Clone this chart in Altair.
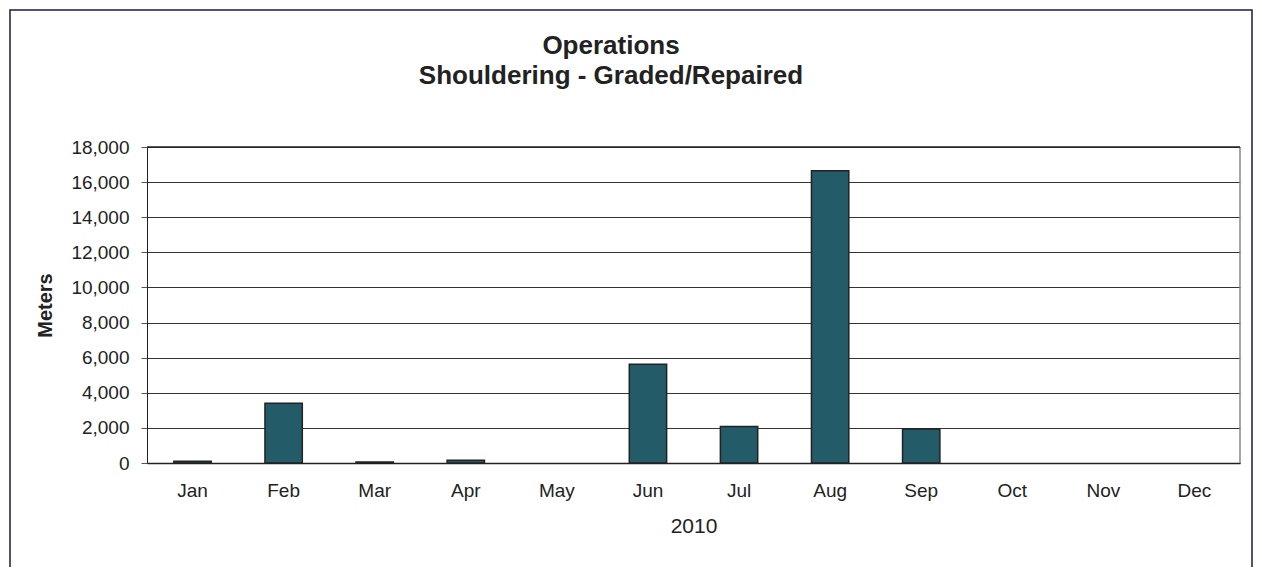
import altair as alt
import pandas as pd

months = ["Jan", "Feb", "Mar", "Apr", "May", "Jun", "Jul", "Aug", "Sep", "Oct", "Nov", "Dec"]
meters = [100, 3400, 50, 150, None, 5620, 2080, 16650, 1930, None, None, None]
y_ticks = [0, 2000, 4000, 6000, 8000, 10000, 12000, 14000, 16000, 18000]
title_lines = ["Operations", "Shouldering - Graded/Repaired"]

df = pd.DataFrame({"Month": months, "Meters": meters})
title_df = pd.DataFrame({"text": title_lines, "line": [0, 1]})

W, H = 1093, 316
FONT = "Liberation Sans"

bars = alt.Chart(df).mark_bar(
    color="#235B69", stroke="#222222", strokeWidth=1.5
).encode(
    x=alt.X("Month:N", sort=months,
            scale=alt.Scale(paddingInner=0.59, paddingOuter=0.295),
            axis=alt.Axis(title="2010", labelAngle=0, ticks=False, labelPadding=18,
                          titlePadding=15, domainColor="#222222", domainWidth=1.5)),
    y=alt.Y("Meters:Q", scale=alt.Scale(domain=[0, 18000], nice=False),
            axis=alt.Axis(title="Meters", values=y_ticks, format=",d", tickSize=6,
                          tickColor="#555555", labelPadding=12, grid=True,
                          gridColor="#333333", gridWidth=1, domainColor="#222222",
                          titleFontWeight="bold", titleX=-92, titleFontSize=20)),
)

title_1 = alt.Chart(title_df.iloc[[0]]).mark_text(
    font=FONT, fontSize=26, fontWeight="bold", color="#222222", align="center", baseline="alphabetic"
).encode(text="text:N", x=alt.value(464), y=alt.value(-93))

title_2 = alt.Chart(title_df.iloc[[1]]).mark_text(
    font=FONT, fontSize=26, fontWeight="bold", color="#222222", align="center", baseline="alphabetic"
).encode(text="text:N", x=alt.value(464), y=alt.value(-63))

frame = alt.Chart(pd.DataFrame({"a": [0]})).mark_rect(
    fill=None, stroke="#1a1a4a", strokeWidth=1.5
).encode(
    x=alt.value(-137), x2=alt.value(W + 12),
    y=alt.value(-137), y2=alt.value(H + 140),
)

right_border = alt.Chart(pd.DataFrame({"a": [0]})).mark_rule(
    color="#888888", strokeWidth=1.5
).encode(x=alt.value(W), y=alt.value(0), y2=alt.value(H))

top_border = alt.Chart(pd.DataFrame({"a": [0]})).mark_rule(
    color="#222222", strokeWidth=1.5
).encode(x=alt.value(0), x2=alt.value(W), y=alt.value(0))

chart = alt.layer(frame, bars, right_border, top_border, title_1, title_2).properties(
    width=W, height=H,
    autosize=alt.AutoSizeParams(type="none"),
    padding={"left": 139, "top": 139, "right": 14, "bottom": 104},
).configure_view(stroke=None).configure_axis(
    labelFont=FONT, titleFont=FONT,
    labelFontSize=19, titleFontSize=21, labelColor="#222222", titleColor="#222222",
).configure_axisX(titleFontWeight="normal")

chart.save("out.html", embed_options={"renderer": "svg", "actions": False})
